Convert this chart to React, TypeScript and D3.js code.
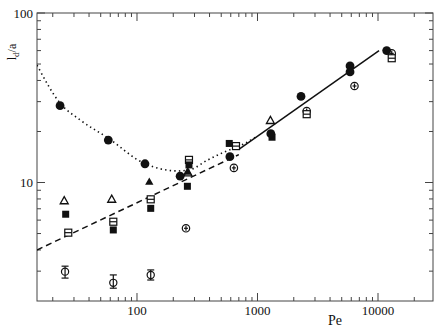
import React from "react";
import * as d3 from "d3";

// values (Pe, l_d/a)
const filledCircles = [
  [23, 28.4], [57.8, 17.8], [116.5, 12.9], [228, 10.9], [590, 14.2],
  [1290, 19.4], [2297, 32.2], [5860, 48.7], [5860, 44.9], [11800, 60],
];
const crossCircles = [
  [255, 5.37], [637, 12.2], [2560, 26.4], [6380, 37.1], [13000, 57.8],
];
// open circle with error bar: Pe, value, low, high
const errCircles = [
  [25.3, 2.98, 2.73, 3.21], [63.6, 2.56, 2.38, 2.85], [130, 2.85, 2.66, 3.05],
];
const openTriangles = [[24.9, 7.8], [61.7, 7.96], [265, 11.4], [1280, 23.2]];
const filledTriangles = [[126.5, 10.1], [262, 11.6]];
const filledSquares = [
  [25.6, 6.5], [63.6, 5.25], [130, 7.04], [262, 9.5], [270, 12.7], [583, 17.0], [1320, 18.5],
];
const openSquares = [
  [26.9, 5.06], [63.6, 5.87], [130, 7.96], [270, 13.6], [663, 16.4], [2560, 25.3], [13000, 54.1],
];

const dottedCurve = [
  [14.8, 49.3], [23, 29.4], [33.7, 23.4], [57.5, 18.3], [114, 13.0], [170, 11.9],
  [219, 11.7], [275, 11.9], [388, 13.6], [538, 15.2], [760, 16.8], [1000, 18.8],
];
const dashedLine = [[14.8, 4.0], [700, 14.6]];
const solidLine = [[700, 15.7], [10200, 60]];

const xMajor = [100, 1000, 10000];
const xMinor = [20, 30, 40, 50, 60, 70, 80, 90, 200, 300, 400, 500, 600, 700, 800, 900,
  2000, 3000, 4000, 5000, 6000, 7000, 8000, 9000, 20000];
const yMajor = [10, 100];
const yMinor = [3, 4, 5, 6, 7, 8, 9, 20, 30, 40, 50, 60, 70, 80, 90];

const W = 436, H = 332;
const L = 37, R = 433, T = 13, B = 301;

export default function App() {
  const x = d3.scaleLog().domain([14.8, 28600]).range([L, R]);
  const y = d3.scaleLog().domain([2, 100]).range([B, T]);
  const line = d3.line<number[]>().x((d) => x(d[0])).y((d) => y(d[1]));
  const curve = d3.line<number[]>().x((d) => x(d[0])).y((d) => y(d[1])).curve(d3.curveMonotoneX);
  const font = "'Liberation Serif', 'DejaVu Serif', serif";
  const ink = "#111";

  const tri = (cx: number, cy: number, r: number) =>
    `M${cx},${cy - r}L${cx + r * 0.95},${cy + r * 0.7}L${cx - r * 0.95},${cy + r * 0.7}Z`;

  return (
    <svg width={W} height={H} style={{ position: "absolute", left: 0, top: 0, background: "#fff" }}>
      <defs>
        <clipPath id="plot">
          <rect x={L} y={T} width={R - L} height={B - T} />
        </clipPath>
      </defs>
      {/* frame */}
      <rect x={L} y={T} width={R - L} height={B - T} fill="none" stroke="#444" strokeWidth={1} />
      {/* x ticks bottom and top */}
      {xMajor.map((v) => (
        <g key={"xM" + v}>
          <line x1={x(v)} x2={x(v)} y1={B} y2={B - 8} stroke="#444" />
          <line x1={x(v)} x2={x(v)} y1={T} y2={T + 8} stroke="#444" />
          <text x={x(v)} y={315} textAnchor="middle" fontFamily={font} fontSize={13} fill={ink}>
            {v}
          </text>
        </g>
      ))}
      {xMinor.map((v) => (
        <g key={"xm" + v}>
          <line x1={x(v)} x2={x(v)} y1={B} y2={B - 4} stroke="#444" />
          <line x1={x(v)} x2={x(v)} y1={T} y2={T + 4} stroke="#444" />
        </g>
      ))}
      {/* y ticks left and right */}
      {yMajor.map((v) => (
        <g key={"yM" + v}>
          <line x1={L} x2={L + 8} y1={y(v)} y2={y(v)} stroke="#444" />
          <line x1={R} x2={R - 8} y1={y(v)} y2={y(v)} stroke="#444" />
          <text x={33} y={y(v) + 4.5} textAnchor="end" fontFamily={font} fontSize={13} fill={ink}>
            {v}
          </text>
        </g>
      ))}
      {yMinor.map((v) => (
        <g key={"ym" + v}>
          <line x1={L} x2={L + 4} y1={y(v)} y2={y(v)} stroke="#444" />
          <line x1={R} x2={R - 4} y1={y(v)} y2={y(v)} stroke="#444" />
        </g>
      ))}
      {/* axis titles */}
      <text x={335} y={325} textAnchor="middle" fontFamily={font} fontSize={14} fill={ink}>
        Pe
      </text>
      <text
        transform="translate(16,52) rotate(-90)"
        textAnchor="middle"
        fontFamily={font}
        fontSize={12}
        fill={ink}
      >
        l<tspan fontSize={9} dy={3}>d</tspan>
        <tspan dy={-3}>/a</tspan>
      </text>

      <g clipPath="url(#plot)">
        <path d={curve(dottedCurve) || ""} fill="none" stroke={ink} strokeWidth={1.6} strokeDasharray="1.4,3.2" />
        <path d={line(dashedLine) || ""} fill="none" stroke={ink} strokeWidth={1.5} strokeDasharray="6,4" />
        <path d={line(solidLine) || ""} fill="none" stroke={ink} strokeWidth={1.5} />

        {errCircles.map((d, i) => (
          <g key={"e" + i} stroke={ink} strokeWidth={1.2} fill="#fff">
            <line x1={x(d[0])} x2={x(d[0])} y1={y(d[2])} y2={y(d[3])} />
            <line x1={x(d[0]) - 3.5} x2={x(d[0]) + 3.5} y1={y(d[2])} y2={y(d[2])} />
            <line x1={x(d[0]) - 3.5} x2={x(d[0]) + 3.5} y1={y(d[3])} y2={y(d[3])} />
            <circle cx={x(d[0])} cy={y(d[1])} r={3.6} fill="none" />
          </g>
        ))}
        {crossCircles.map((d, i) => (
          <g key={"c" + i} stroke={ink} strokeWidth={1.2}>
            <circle cx={x(d[0])} cy={y(d[1])} r={3.7} fill="#fff" />
            <line x1={x(d[0])} x2={x(d[0])} y1={y(d[1]) - 2.5} y2={y(d[1]) + 2.5} />
            <line x1={x(d[0]) - 2} x2={x(d[0]) + 2} y1={y(d[1])} y2={y(d[1])} />
          </g>
        ))}
        {openSquares.map((d, i) => (
          <g key={"os" + i} stroke={ink} strokeWidth={1.2}>
            <rect x={x(d[0]) - 3.5} y={y(d[1]) - 3.5} width={7} height={7} fill="#fff" />
            <line x1={x(d[0]) - 3.5} x2={x(d[0]) + 3.5} y1={y(d[1])} y2={y(d[1])} />
          </g>
        ))}
        {filledSquares.map((d, i) => (
          <rect key={"fs" + i} x={x(d[0]) - 3.5} y={y(d[1]) - 3.5} width={7} height={7} fill={ink} />
        ))}
        {openTriangles.map((d, i) => (
          <path key={"ot" + i} d={tri(x(d[0]), y(d[1]), 4.2)} fill="#fff" stroke={ink} strokeWidth={1.3} />
        ))}
        {filledTriangles.map((d, i) => (
          <path key={"ft" + i} d={tri(x(d[0]), y(d[1]), 4.4)} fill={ink} />
        ))}
        {filledCircles.map((d, i) => (
          <circle key={"fc" + i} cx={x(d[0])} cy={y(d[1])} r={4.4} fill={ink} />
        ))}
      </g>
    </svg>
  );
}
